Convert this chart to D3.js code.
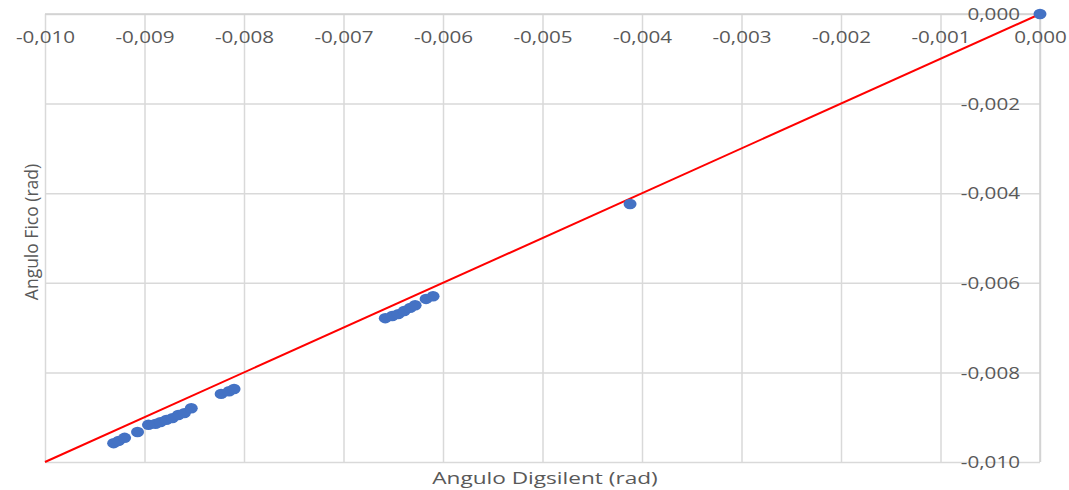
<!DOCTYPE html>
<html>
<head>
<meta charset="utf-8">
<script src="https://cdn.jsdelivr.net/npm/d3@7"></script>
<style>
  body { margin: 0; background: #fff; }
  svg text { font-family: "Open Sans", "Liberation Sans", sans-serif; fill: #595959; }
</style>
</head>
<body>
<div id="chart"></div>
<script>
// values (rad)
var digsilent = [0, -0.00412,
    -0.00658, -0.00651, -0.00645, -0.00639, -0.00633, -0.00628, -0.00617, -0.0061,
    -0.00931, -0.00926, -0.0092, -0.00907, -0.00896, -0.00889, -0.00884, -0.00878,
    -0.00872, -0.00866, -0.0086, -0.00853, -0.00823, -0.00815, -0.0081];
var fico = [0, -0.00424,
    -0.00679, -0.00674, -0.0067, -0.00663, -0.00656, -0.0065, -0.00636, -0.0063,
    -0.00958, -0.00953, -0.00946, -0.00933, -0.00917, -0.00915, -0.00911, -0.00906,
    -0.00902, -0.00895, -0.00891, -0.0088, -0.00848, -0.00842, -0.00837];
var refLine = [[-0.010, -0.010], [0, 0]];
var xTicks = [-0.010, -0.009, -0.008, -0.007, -0.006, -0.005, -0.004, -0.003, -0.002, -0.001, 0];
var yTicks = [0, -0.002, -0.004, -0.006, -0.008, -0.010];

var svgWidth = 1069;
var svgHeight = 490;
var margin = { top: 14, bottom: 28, left: 45, right: 29 };
var width = svgWidth - margin.left - margin.right;
var height = svgHeight - margin.top - margin.bottom;

// the original picture is a bit stretched sideways
var stretch = 1.25;

var locale = d3.formatLocale({ decimal: ",", thousands: ".", grouping: [3], currency: ["", ""], minus: "-" });
var fmt = locale.format(".3f");

function widen(sel, k) {
    sel.each(function() {
        this.setAttribute("textLength", this.getComputedTextLength() * k);
        this.setAttribute("lengthAdjust", "spacingAndGlyphs");
    });
}

var svg = d3.select("#chart")
    .append("svg")
    .attr("width", svgWidth)
    .attr("height", svgHeight);

var chartGroup = svg.append("g")
    .attr("transform", `translate(${margin.left}, ${margin.top})`);

var xScale = d3.scaleLinear().domain([-0.010, 0]).range([0, width]);
var yScale = d3.scaleLinear().domain([-0.010, 0]).range([height, 0]);

// grid
var xGrid = chartGroup.append("g")
    .call(d3.axisBottom(xScale).tickValues(xTicks).tickSize(height).tickFormat(""));
var yGrid = chartGroup.append("g")
    .attr("transform", `translate(${width}, 0)`)
    .call(d3.axisLeft(yScale).tickValues(yTicks).tickSize(width).tickFormat(""));
[xGrid, yGrid].forEach(function(g) {
    g.select(".domain").remove();
    g.selectAll(".tick line").attr("stroke", "#d9d9d9").attr("stroke-width", 1.5);
});

// axis lines at top and right
chartGroup.append("line")
    .attr("x1", 0).attr("x2", width).attr("y1", yScale(0)).attr("y2", yScale(0))
    .attr("stroke", "#d0d0d0").attr("stroke-width", 1.5);
chartGroup.append("line")
    .attr("x1", xScale(0)).attr("x2", xScale(0)).attr("y1", 0).attr("y2", height)
    .attr("stroke", "#d0d0d0").attr("stroke-width", 1.5);

// tick labels
var xAxis = chartGroup.append("g")
    .attr("transform", `translate(0, ${yScale(0)})`)
    .call(d3.axisBottom(xScale).tickValues(xTicks).tickSize(0).tickPadding(17).tickFormat(fmt));
var yAxis = chartGroup.append("g")
    .attr("transform", `translate(${xScale(0)}, 0)`)
    .call(d3.axisLeft(yScale).tickValues(yTicks).tickSize(0).tickPadding(20).tickFormat(fmt));
[xAxis, yAxis].forEach(function(g) {
    g.select(".domain").remove();
    g.selectAll("text").attr("font-size", "16.5px").attr("fill", "#595959")
        .style("font-family", "'Open Sans', sans-serif");
    widen(g.selectAll("text"), stretch);
});
yAxis.selectAll("text").attr("dy", "0.35em");

// y = x reference line
chartGroup.append("path")
    .datum(refLine)
    .attr("fill", "none")
    .attr("stroke", "#ff0000")
    .attr("stroke-width", 2)
    .attr("d", d3.line().x(d => xScale(d[0])).y(d => yScale(d[1])));

// points
chartGroup.append("g")
    .selectAll("ellipse")
    .data(digsilent)
    .enter()
    .append("ellipse")
    .attr("cx", d => xScale(d))
    .attr("cy", (d, i) => yScale(fico[i]))
    .attr("rx", 6.5)
    .attr("ry", 5.2)
    .attr("fill", "#4472c4");

// axis titles
var xTitle = svg.append("text")
    .attr("x", 545)
    .attr("y", 484)
    .attr("text-anchor", "middle")
    .attr("font-size", "17px")
    .text("Angulo Digsilent (rad)");
widen(xTitle, 1.33);

svg.append("text")
    .attr("transform", `translate(38, ${margin.top + height / 2 - 6}) rotate(-90)`)
    .attr("text-anchor", "middle")
    .attr("font-size", "17.5px")
    .text("Angulo Fico (rad)");
</script>
</body>
</html>
